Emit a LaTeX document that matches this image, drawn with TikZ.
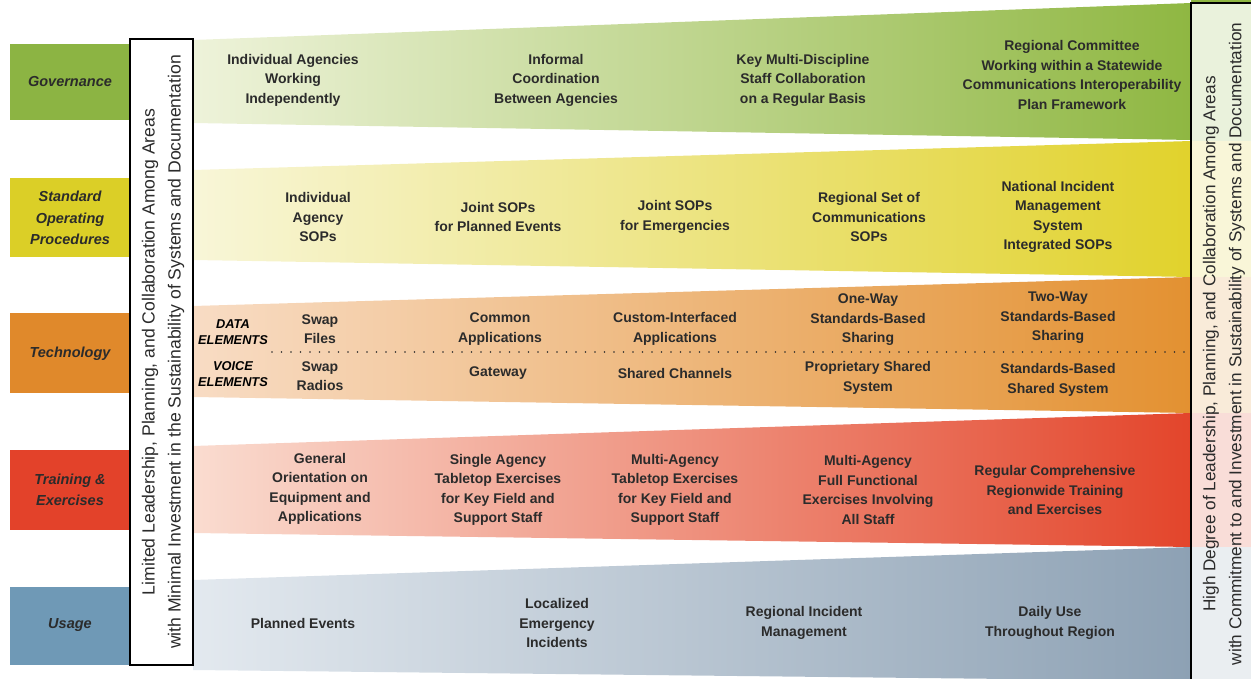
\documentclass[tikz,border=0pt]{standalone}
\usepackage{fontspec}
\setmainfont{Liberation Sans}
\usepackage{xcolor}
\usepackage{tikz}

\definecolor{govC}{HTML}{8CB443}
\definecolor{sopC}{HTML}{DBCF27}
\definecolor{techC}{HTML}{E0892B}
\definecolor{trainC}{HTML}{E3422A}
\definecolor{useC}{HTML}{6F99B6}
\definecolor{govL}{HTML}{EEF3DA}
\definecolor{govR}{HTML}{8FB742}
\definecolor{sopL}{HTML}{F8F6D8}
\definecolor{sopR}{HTML}{E1D22C}
\definecolor{techL}{HTML}{F8DCC4}
\definecolor{techR}{HTML}{E39131}
\definecolor{trainL}{HTML}{FADCD0}
\definecolor{trainR}{HTML}{E3452B}
\definecolor{useL}{HTML}{E3E9EF}
\definecolor{useR}{HTML}{8DA1B4}
\definecolor{txt}{HTML}{2B2B2B}

\begin{document}
\begin{tikzpicture}[x=1pt,y=-1pt,
  cell/.style={align=center,text=txt,font=\bfseries\fontsize{14}{19.5}\selectfont},
  rowlab/.style={align=center,text=txt,font=\bfseries\itshape\fontsize{14.5}{21.5}\selectfont},
  elem/.style={align=center,text=black,font=\bfseries\itshape\fontsize{12.8}{16.5}\selectfont},
  sidetxt/.style={rotate=90,align=center,text=txt,font=\fontsize{17.6}{26}\selectfont}]

\useasboundingbox (0,0) rectangle (1251,679);

% bands
\shade[left color=govL,right color=govR] (193,40)--(1191,3)--(1191,140)--(193,123)--cycle;
\shade[left color=sopL,right color=sopR] (193,170)--(1191,141)--(1191,277)--(193,260)--cycle;
\shade[left color=techL,right color=techR] (193,306)--(1191,277)--(1191,413)--(193,397)--cycle;
\shade[left color=trainL,right color=trainR] (193,446)--(1191,413)--(1191,547)--(193,533)--cycle;
\shade[left color=useL,right color=useR] (193,580)--(1191,547)--(1191,681)--(193,670)--cycle;

% right end of the bands
\fill[govR] (1191,0) rectangle (1251,141);
\fill[sopR] (1191,141) rectangle (1251,277);
\fill[techR] (1191,277) rectangle (1251,413);
\fill[trainR] (1191,413) rectangle (1251,547);
\fill[useR] (1191,547) rectangle (1251,681);

% row labels
\fill[govC] (10,44) rectangle (130,120);
\node[rowlab] (gov) at (70,82) {Governance};

\fill[sopC] (10,178) rectangle (130,257);
\node[rowlab] (sop) at (70,218) {Standard\\Operating\\Procedures};

\fill[techC] (10,313) rectangle (130,393);
\node[rowlab] (tech) at (70,354) {Technology};

\fill[trainC] (10,450) rectangle (130,530);
\node[rowlab] (train) at (70,490) {Training \&\\Exercises};

\fill[useC] (10,587) rectangle (130,665);
\node[rowlab] (usage) at (70,625) {Usage};

% side boxes
\draw[fill=white,line width=1.3pt] (130,39) rectangle (193,665);
\node[sidetxt] (low) at (163,352) {Limited Leadership, Planning, and Collaboration Among Areas\\with Minimal Investment in the Sustainability of Systems and Documentation};

\draw[fill=white,fill opacity=0.82,line width=1.3pt] (1191,3) rectangle (1262,690);
\node[sidetxt,font=\fontsize{17.2}{26}\selectfont] (high) at (1224,344) {High Degree of Leadership, Planning, and Collaboration Among Areas\\with Commitment to and Investment in Sustainability of Systems and Documentation};

% data / voice divider
\draw[txt,line width=1.7pt,line cap=round,dash pattern=on 0pt off 9.5pt] (272,352) -- (1188,352);

% governance
\node[cell] (g1) at (293,80) {Individual Agencies\\Working\\Independently};
\node[cell] (g2) at (556,80) {Informal\\Coordination\\Between Agencies};
\node[cell] (g3) at (803,80) {Key Multi-Discipline\\Staff Collaboration\\on a Regular Basis};
\node[cell] (g4) at (1072,75) {Regional Committee\\Working within a Statewide\\Communications Interoperability\\Plan Framework};

% standard operating procedures
\node[cell] (s1) at (318,217) {Individual\\Agency\\SOPs};
\node[cell] (s2) at (498,217) {Joint SOPs\\for Planned Events};
\node[cell] (s3) at (675,217) {Joint SOPs\\for Emergencies};
\node[cell] (s4) at (869,217) {Regional Set of\\Communications\\SOPs};
\node[cell] (s5) at (1058,217) {National Incident\\Management\\System\\Integrated SOPs};

% technology
\node[elem] (data) at (233,332) {DATA\\ELEMENTS};
\node[elem] (voice) at (233,374) {VOICE\\ELEMENTS};
\node[cell] (t1) at (320,329) {Swap\\Files};
\node[cell] (t2) at (500,329) {Common\\Applications};
\node[cell] (t3) at (675,329) {Custom-Interfaced\\Applications};
\node[cell] (t4) at (868,320) {One-Way\\Standards-Based\\Sharing};
\node[cell] (t5) at (1058,318) {Two-Way\\Standards-Based\\Sharing};
\node[cell] (v1) at (320,376) {Swap\\Radios};
\node[cell] (v2) at (498,373) {Gateway};
\node[cell] (v3) at (675,373) {Shared Channels};
\node[cell] (v4) at (868,378) {Proprietary Shared\\System};
\node[cell] (v5) at (1058,380) {Standards-Based\\Shared System};

% training and exercises
\node[cell] (e1) at (320,489) {General\\Orientation on\\Equipment and\\Applications};
\node[cell] (e2) at (498,490) {Single Agency\\Tabletop Exercises\\for Key Field and\\Support Staff};
\node[cell] (e3) at (675,490) {Multi-Agency\\Tabletop Exercises\\for Key Field and\\Support Staff};
\node[cell] (e4) at (868,490) {Multi-Agency\\Full Functional\\Exercises Involving\\All Staff};
\node[cell] (e5) at (1055,490) {Regular Comprehensive\\Regionwide Training\\and Exercises};

% usage
\node[cell] (u1) at (303,623) {Planned Events};
\node[cell] (u2) at (557,623) {Localized\\Emergency\\Incidents};
\node[cell] (u3) at (804,623) {Regional Incident\\Management};
\node[cell] (u4) at (1050,623) {Daily Use\\Throughout Region};

\end{tikzpicture}
\end{document}
